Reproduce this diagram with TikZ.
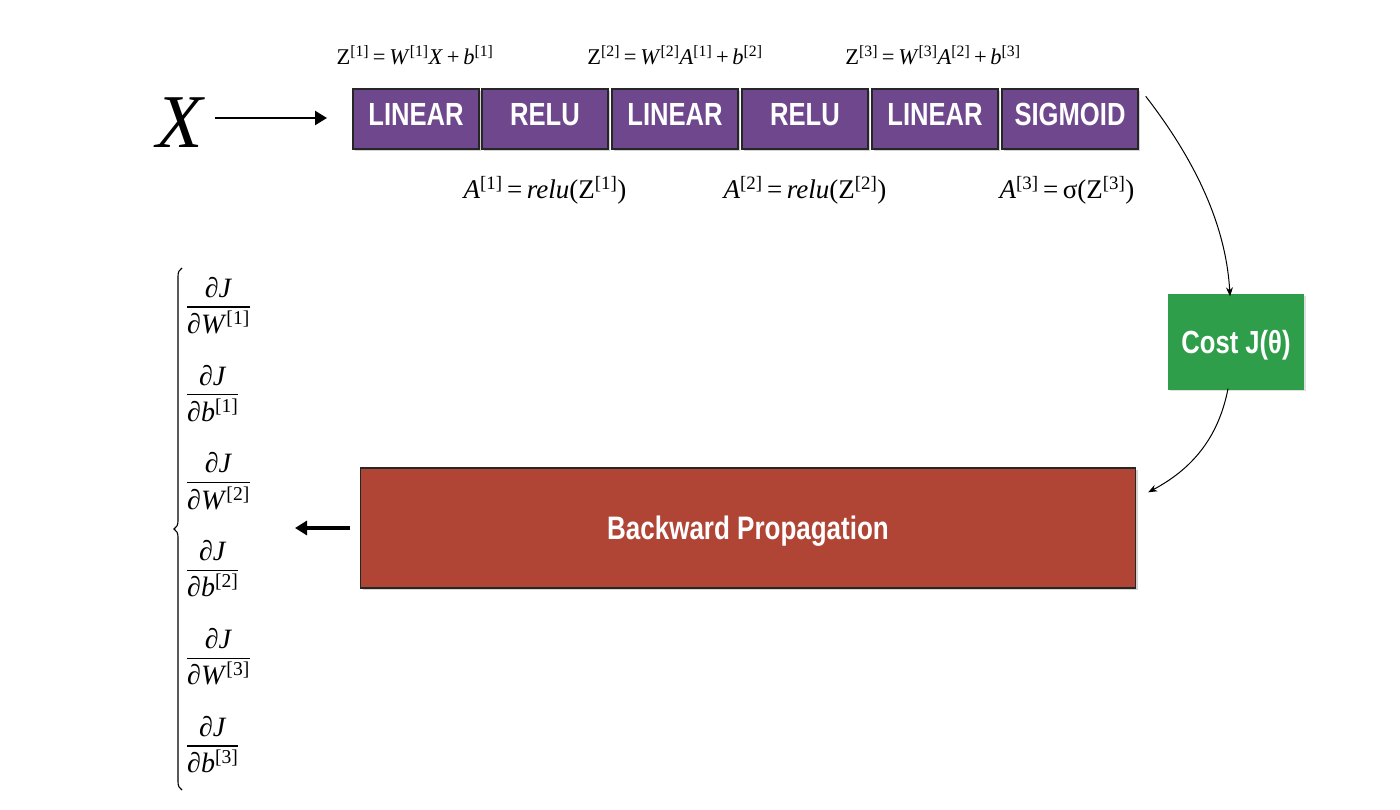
\documentclass[tikz,border=0pt]{standalone}
\usepackage{fontspec}
\setmainfont{Liberation Serif}
\newfontfamily\cnd[FakeStretch=0.8]{Liberation Sans}
\usetikzlibrary{arrows.meta,shadows,decorations.pathreplacing}
\definecolor{purp}{HTML}{6F478D}
\definecolor{costg}{HTML}{2F9E4A}
\definecolor{backr}{HTML}{B04536}
\newcommand{\brk}[1]{\textsuperscript{\upshape[#1]}}
\newcommand{\pdfrac}[2]{\renewcommand{\arraystretch}{1.2}\setlength{\arrayrulewidth}{1.1pt}%
  \begin{tabular}{@{}c@{}}∂\textit{J}\\[-2pt]\hline ∂\textit{#1\/}\brk{#2}\end{tabular}}
\tikzset{
  blk/.style={draw=black!85, line width=1.4pt, fill=purp, text=white,
    minimum height=60pt, text height=20pt, text depth=6pt,
    font=\cnd\bfseries\fontsize{32}{34}\selectfont,
    drop shadow={opacity=0.35, shadow xshift=2pt, shadow yshift=-2pt}},
  eqn/.style={font=\fontsize{22.5}{25}\selectfont, inner sep=0pt},
  aeq/.style={font=\fontsize{27}{30}\selectfont, inner sep=0pt},
  frc/.style={font=\fontsize{28}{31}\selectfont, inner sep=0pt},
  arr/.style={-{Stealth[length=9pt,width=7pt]}, line width=1pt},
  barr/.style={-{Triangle[length=12pt,width=14pt]}},
}
\begin{document}
\begin{tikzpicture}[x=1pt,y=-1pt]
\useasboundingbox (0,0) rectangle (1400,810);
% input
\node[inner sep=0pt, font=\fontsize{76}{80}\selectfont\itshape] (X) at (180,123) {X};
\coordinate (xa) at (215,118);
\coordinate (xb) at (327,118);
\draw[barr, line width=2.4pt] (xa) -- (xb);
% forward blocks
\node[blk, minimum width=126pt] (b1) at (416,119) {LINEAR};
\node[blk, minimum width=126pt] (b2) at (545,119) {RELU};
\node[blk, minimum width=126pt] (b3) at (675,119) {LINEAR};
\node[blk, minimum width=126pt] (b4) at (805,119) {RELU};
\node[blk, minimum width=126pt] (b5) at (935,119) {LINEAR};
\node[blk, minimum width=136pt] (b6) at (1070,119) {SIGMOID};
% equations above
\node[eqn] (z1) at (415,55) {Z\brk{1}\,=\,\textit{W}\brk{1}\textit{X}\,+\,\textit{b}\brk{1}};
\node[eqn] (z2) at (675,55) {Z\brk{2}\,=\,\textit{W}\brk{2}\textit{A}\brk{1}\,+\,\textit{b}\brk{2}};
\node[eqn] (z3) at (933,55) {Z\brk{3}\,=\,\textit{W}\brk{3}\textit{A}\brk{2}\,+\,\textit{b}\brk{3}};
% equations below
\node[aeq] (a1) at (545,190) {\textit{A}\brk{1}\,=\,\textit{relu}(Z\brk{1})};
\node[aeq] (a2) at (805,190) {\textit{A}\brk{2}\,=\,\textit{relu}(Z\brk{2})};
\node[aeq] (a3) at (1067,190) {\textit{A}\brk{3}\,=\,σ(Z\brk{3})};
% cost
\node[fill=costg, minimum width=136pt, minimum height=95pt, text=white,
  text height=23pt, text depth=1pt,
  font=\cnd\bfseries\fontsize{32}{34}\selectfont,
  drop shadow={opacity=0.25, shadow xshift=1.5pt, shadow yshift=-1.5pt}] (cost) at (1236,342) {Cost J(θ)};
% backward
\node[draw=black!85, line width=1.4pt, fill=backr, minimum width=775pt, minimum height=120pt,
  text=white, text height=23pt, text depth=0pt,
  font=\cnd\bfseries\fontsize{32.5}{35}\selectfont,
  drop shadow={opacity=0.35, shadow xshift=2pt, shadow yshift=-2pt}] (back) at (748,528) {Backward Propagation};
% curved connectors
\draw[arr] ([xshift=7pt,yshift=-8pt]b6.north east) .. controls (1195,160) and (1226,225) .. ([xshift=-6pt,yshift=-2pt]cost.north);
\draw[arr] ([xshift=-8pt,yshift=1pt]cost.south) .. controls (1218,440) and (1190,470) .. ([xshift=12pt,yshift=-25pt]back.north east);
% output arrow
\coordinate (oa) at (295,528);
\draw[barr, line width=3.5pt] ([xshift=-10pt]back.west) -- (oa);
% gradients
\foreach \n/\v/\k in {0/W/1,1/b/1,2/W/2,3/b/2,4/W/3,5/b/3}{
  \node[frc, anchor=west] (g\n) at (187,308+87.8*\n) {\pdfrac{\v}{\k}};
}
\draw[line width=1.1pt, decorate, decoration={brace, amplitude=8pt, aspect=0.5}] (182,790) -- (182,268);
\end{tikzpicture}
\end{document}
